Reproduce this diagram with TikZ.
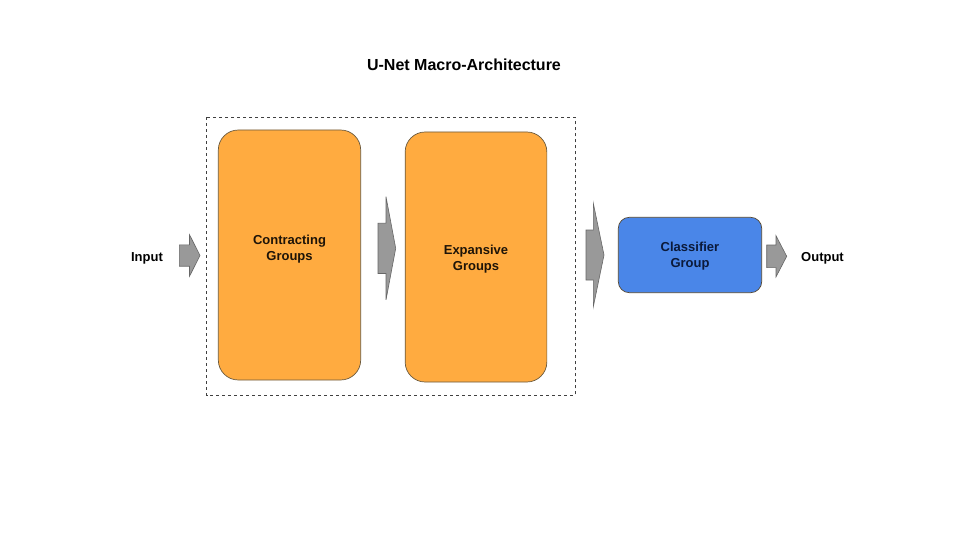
\documentclass[tikz,border=0pt]{standalone}
\usepackage{fontspec}
\setmainfont{Liberation Sans}
\definecolor{orangefill}{HTML}{FFAB40}
\definecolor{bluefill}{HTML}{4A86E8}
\definecolor{arrowfill}{HTML}{999999}
\definecolor{arrowline}{HTML}{666666}
\definecolor{boxline}{HTML}{6B5A3E}
\definecolor{navytext}{HTML}{0B1A3A}
\definecolor{browntext}{HTML}{1E1408}
% #1 x start, #2 head start, #3 tip, #4 centre y, #5 body half height, #6 head half height
\newcommand\blockarr[6]{%
  \draw[blockarrow] (#1,#4-#5) -- (#2,#4-#5) -- (#2,#4-#6) -- (#3,#4)
    -- (#2,#4+#6) -- (#2,#4+#5) -- (#1,#4+#5) -- cycle;}
\begin{document}
\begin{tikzpicture}[x=1pt,y=-1pt,
  blockarrow/.style={fill=arrowfill,draw=arrowline,line width=0.6pt,line join=miter},
  groupbox/.style={fill=orangefill,draw=boxline,line width=0.7pt,rounded corners=20pt,inner sep=0pt},
  classbox/.style={fill=bluefill,draw=boxline!80!black,line width=0.7pt,rounded corners=11pt,inner sep=0pt},
  boxtext/.style={font=\bfseries\fontsize{13}{16}\selectfont,align=center,inner sep=0pt},
  label/.style={font=\bfseries\fontsize{13}{16}\selectfont,text=black,inner sep=0pt},
  frame/.style={draw=black!75,dashed,line width=0.6pt}]
\useasboundingbox[fill=white] (0,0) rectangle (960,540);
\node[font=\bfseries\fontsize{16}{19}\selectfont,inner sep=0pt] (title) at (464,64.5) {U-Net Macro-Architecture};
\draw[frame] (206.7,117.3) rectangle (575,395.7);
\node[groupbox,minimum width=142.4pt,minimum height=250pt] (contract) at (289.5,255) {};
\node[groupbox,minimum width=141.7pt,minimum height=250pt] (expand) at (476,257) {};
\node[classbox,minimum width=143.4pt,minimum height=75.4pt] (classifier) at (690,255) {};
\node[boxtext,text=browntext] (contracttext) at (289.5,249.2) {Contracting\\Groups};
\node[boxtext,text=browntext] (expandtext) at (476,259.2) {Expansive\\Groups};
\node[boxtext,text=navytext] (classifiertext) at (690,256.6) {Classifier\\Group};
\node[label] (input) at (147,258) {Input};
\node[label] (output) at (822.5,258) {Output};
\blockarr{179.3}{189.5}{200}{255.5}{10.7}{20.8}
\blockarr{378}{386}{395.7}{248.3}{25.2}{51.6}
\blockarr{586}{593.3}{604}{255}{25}{51.7}
\blockarr{766.7}{776}{786.7}{256.3}{11.3}{20.6}
\end{tikzpicture}
\end{document}
